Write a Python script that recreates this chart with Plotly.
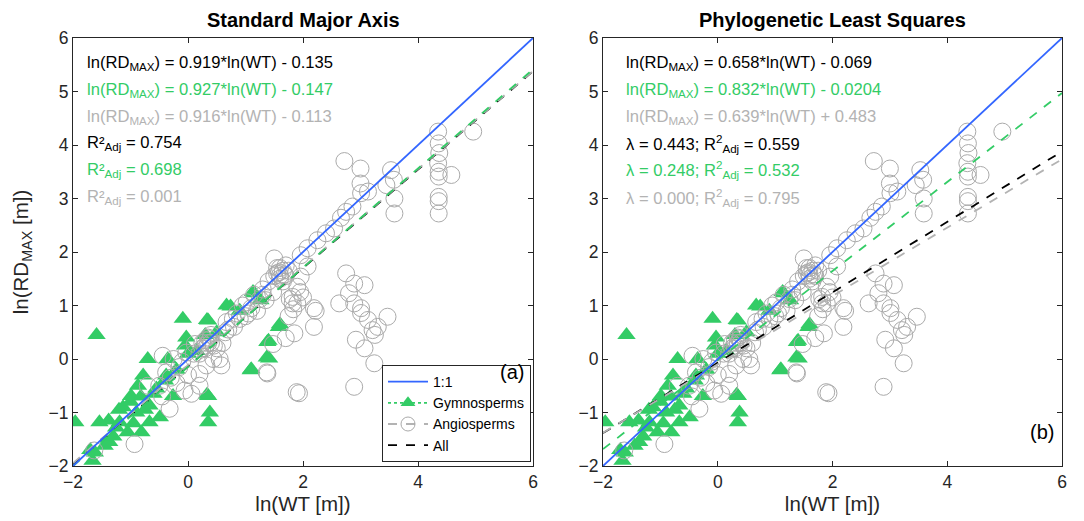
import numpy as np
import plotly.graph_objects as go

# ---------------- data ----------------
gymno_x = [-1.59, -1.96, -1.54, -1.38, -1.19, -1.66, -1.62, -1.45, -1.37, -1.25,
           -1.05, -0.81, -0.67, -0.49, -1.13, -0.99, -0.87, -0.78, -0.70, -0.82,
           -0.67, -0.55, -0.90, -1.00, -0.26, -0.38, -0.35, -0.20, -0.09, -0.03,
           -0.05, 0.00, 0.35, 0.30, 0.35, 0.38, 0.35, 0.33, 0.67, 0.74,
           0.33, 1.10, 1.09, 1.37, 1.41, 1.40, 1.38, 1.60, 1.58, 1.13,
           1.26, 1.15, 0.90, 0.50, 0.15, -0.40, -1.20, -1.70, -0.95, -0.60,
           -1.30, -0.75]
gymno_y = [0.45, -1.18, -1.18, -1.15, -1.18, -1.90, -1.75, -1.62, -1.55, -1.28,
           -1.37, -1.37, -1.18, -1.09, -0.90, -0.69, -0.50, -0.31, 0.00, -0.70,
           -0.87, -0.55, -1.00, -0.80, -0.69, -0.31, 0.00, -0.20, 0.75, 0.40,
           0.25, 0.10, 0.72, 0.45, -0.69, -1.00, -1.18, -0.67, 1.00, 0.98,
           0.73, -0.19, -0.21, 0.03, 0.01, 0.34, 0.32, 0.65, 0.60, 1.25,
           1.10, 1.23, 0.90, 0.50, 0.15, -0.40, -0.95, -1.70, -1.20, -0.65,
           -1.45, -0.95]

angio_x = [-1.63, -0.93, -0.32, -0.38, -0.30, -0.20, -0.06, 0.06, 0.20, 0.20,
           0.32, 0.38, 0.35, 0.30, 0.25, 0.40, 0.44, 0.55, 0.58, 0.50,
           0.60, 0.67, 0.78, 0.85, 1.02, 1.10, 1.25, 1.48, 1.60, 1.77,
           1.83, 1.75, 1.37, 1.48, 1.89, 0.12, 0.10, -0.03, -0.10, 0.00,
           -0.15, -0.50, -0.44, -0.25, 0.25, 0.30, 0.35, 0.30, 0.40, 0.20,
           0.45, 0.70, 0.90, 0.95, 1.00, 0.80, 1.20, 1.15, 1.30, 1.35,
           2.72, 3.00, 3.00, 3.13, 3.53, 3.58, 3.45, 3.59, 3.59, 4.35,
           4.36, 4.37, 4.35, 4.36, 4.58, 4.36, 4.36, 4.36, 4.36, 4.96,
           3.01, 2.86, 2.75, 2.66, 2.54, 2.40, 2.25, 2.08, 1.96, 1.55,
           1.60, 1.65, 1.70, 1.75, 1.60, 1.50, 1.65, 1.55, 1.70, 1.58,
           1.68, 1.50, 1.82, 1.82, 1.96, 2.08, 2.75, 2.89, 3.07, 2.80,
           2.63, 2.19, 2.22, 2.19, 1.90, 1.85, 2.89, 3.01, 3.01, 3.13,
           3.21, 3.47, 2.92, 3.07, 3.24, 2.89, 1.93, 1.38, 1.70, 1.95,
           1.90, 2.00, 1.40, 1.30, 3.25, 3.30, -0.70, -0.45, 0.65, 1.05]
angio_y = [-1.71, -1.59, -0.93, -0.25, -0.35, -0.45, -0.59, -0.65, -0.50, -0.28,
           -0.12, 0.37, 0.30, 0.25, 0.20, 0.45, 0.00, 0.00, -0.12, 0.20,
           0.30, 0.69, 0.75, 0.85, 1.06, 0.95, 1.12, 1.25, 1.56, 1.12,
           0.93, 0.80, -0.25, 0.28, -0.62, 0.28, 0.10, 0.12, -0.05, -0.30,
           -0.15, -0.50, 0.06, 0.00, 0.30, 0.35, 0.40, 0.20, 0.30, 0.10,
           0.25, 0.55, 0.75, 1.00, 0.80, 0.60, 0.90, 1.20, 1.30, 1.10,
           3.70, 3.56, 3.28, 3.13, 3.53, 3.35, 3.25, 3.00, 2.72, 4.25,
           4.03, 3.85, 3.66, 3.50, 3.44, 3.41, 3.03, 2.95, 2.72, 4.25,
           3.10, 2.85, 2.75, 2.64, 2.44, 2.35, 2.22, 2.07, 1.94, 1.60,
           1.50, 1.65, 1.55, 1.65, 1.70, 1.55, 1.45, 1.70, 1.75, 1.62,
           1.58, 1.88, 1.16, 1.04, 1.54, 1.73, 1.60, 1.41, 1.38, 1.23,
           1.04, 0.95, 0.90, 0.60, 1.04, 0.48, 1.04, 0.95, 0.86, 0.73,
           0.54, 0.79, 0.36, 0.20, -0.08, -0.52, -0.64, -0.27, 0.39, 1.25,
           1.35, 1.15, 1.45, 1.20, 0.45, 0.60, -0.50, -0.70, 0.50, 0.85]

# fit order: All, Gymnosperms, Angiosperms
sma_slopes = [0.919, 0.927, 0.916]
sma_intercepts = [-0.135, -0.147, -0.113]
pgls_slopes = [0.658, 0.832, 0.639]
pgls_intercepts_text = [-0.069, -0.0204, 0.483]
pgls_intercepts_drawn = [-0.069, -0.0204, -0.10]
sma_r2 = [0.754, 0.698, 0.001]
pgls_lambda = [0.443, 0.248, 0.000]
pgls_r2 = [0.559, 0.532, 0.795]

axis_range = [-2, 6]
tick_vals = [-2, 0, 2, 4, 6]
ytick_vals = [-2, -1, 0, 1, 2, 3, 4, 5, 6]

GREEN = "#33CC66"
GRAY = "#B3B3B3"
BLUE = "#3366FF"
BLACK = "#000000"
FONT = "Liberation Sans, Arial, sans-serif"
fit_colors = [BLACK, GREEN, GRAY]
W, H = 1084, 521

fig = go.Figure()

def add_panel(xa, ya, slopes, intercepts):
    fig.add_trace(go.Scatter(x=gymno_x, y=gymno_y, mode="markers", xaxis=xa, yaxis=ya,
                             marker=dict(symbol="triangle-up", size=16, color=GREEN,
                                         line=dict(width=0)), showlegend=False))
    fig.add_trace(go.Scatter(x=angio_x, y=angio_y, mode="markers", xaxis=xa, yaxis=ya,
                             marker=dict(symbol="circle-open", size=17, color="#AAAAAA",
                                         line=dict(width=1)), showlegend=False))
    xl = np.array(axis_range, dtype=float)
    for k in [0, 2, 1]:
        fig.add_trace(go.Scatter(x=xl, y=slopes[k] * xl + intercepts[k], mode="lines",
                                 xaxis=xa, yaxis=ya, showlegend=False,
                                 line=dict(color=fit_colors[k], width=1.8, dash="dash")))
    fig.add_trace(go.Scatter(x=xl, y=xl, mode="lines", xaxis=xa, yaxis=ya, showlegend=False,
                             line=dict(color=BLUE, width=1.8)))

add_panel("x", "y", sma_slopes, sma_intercepts)
add_panel("x2", "y2", pgls_slopes, pgls_intercepts_drawn)

# legend-only entries
fig.add_trace(go.Scatter(x=[None], y=[None], mode="lines", name="1:1",
                         line=dict(color=BLUE, width=1.8)))
fig.add_trace(go.Scatter(x=[None], y=[None], mode="lines+markers", name="Gymnosperms",
                         line=dict(color=GREEN, width=1.8, dash="dot"),
                         marker=dict(symbol="triangle-up", size=13, color=GREEN)))
fig.add_trace(go.Scatter(x=[None], y=[None], mode="lines+markers", name="Angiosperms",
                         line=dict(color=GRAY, width=1.8, dash="dash"),
                         marker=dict(symbol="circle-open", size=14, color="#AAAAAA")))
fig.add_trace(go.Scatter(x=[None], y=[None], mode="lines", name="All",
                         line=dict(color=BLACK, width=1.8, dash="dash")))

axis_common = dict(range=axis_range, showgrid=False, zeroline=False, showline=True,
                   linecolor="#262626", linewidth=1, mirror="ticks", ticks="inside",
                   ticklen=5, tickcolor="#262626", automargin=False,
                   tickfont=dict(family=FONT, size=17.5, color="#262626"))
L0, L1 = 73 / W, 533 / W
R0, R1 = 603 / W, 1062 / W
Y0, Y1 = 1 - 466 / H, 1 - 38 / H

fig.update_layout(
    width=W, height=H, margin=dict(l=0, r=0, t=0, b=0, autoexpand=False),
    paper_bgcolor="white", plot_bgcolor="white",
    font=dict(family=FONT, color="#262626"),
    xaxis=dict(axis_common, domain=[L0, L1], tickvals=tick_vals,
               title=dict(text="ln(WT [m])", font=dict(size=20.5), standoff=2)),
    yaxis=dict(axis_common, domain=[Y0, Y1], tickvals=ytick_vals,
               title=dict(text="ln(RD<sub>MAX</sub> [m])", font=dict(size=20.5), standoff=14)),
    xaxis2=dict(axis_common, domain=[R0, R1], tickvals=tick_vals, anchor="y2",
                title=dict(text="ln(WT [m])", font=dict(size=20.5), standoff=2)),
    yaxis2=dict(axis_common, domain=[Y0, Y1], tickvals=ytick_vals, anchor="x2"),
    legend=dict(x=531 / W, y=1 - 462 / H, xanchor="right", yanchor="bottom",
                bgcolor="white", bordercolor="#262626", borderwidth=1,
                font=dict(family=FONT, size=14, color="#000000"),
                tracegroupgap=0, itemwidth=40),
    showlegend=True,
)

ann = []
ann.append(dict(text="<b>Standard Major Axis</b>", x=(L0 + L1) / 2, y=1 - 20 / H,
                xref="paper", yref="paper", showarrow=False, xanchor="center", yanchor="middle",
                font=dict(size=20, color="#000000", family=FONT)))
ann.append(dict(text="<b>Phylogenetic Least Squares</b>", x=(R0 + R1) / 2, y=1 - 20 / H,
                xref="paper", yref="paper", showarrow=False, xanchor="center", yanchor="middle",
                font=dict(size=20, color="#000000", family=FONT)))

def fmt_int(v):
    s = f"{abs(v):g}"
    return ("+ " if v >= 0 else "- ") + s

line_y = [63, 90, 117, 143, 170, 197]
TS = 16.6
for k in range(3):
    ann.append(dict(text=f"ln(RD<sub>MAX</sub>) = {sma_slopes[k]:.3f}*ln(WT) {fmt_int(sma_intercepts[k])}",
                    x=85 / W, y=1 - line_y[k] / H, xref="paper", yref="paper",
                    xanchor="left", yanchor="middle", showarrow=False,
                    font=dict(size=TS, color=fit_colors[k], family=FONT)))
    ann.append(dict(text=f"R²<sub>Adj</sub> = {sma_r2[k]:.3f}",
                    x=85 / W, y=1 - line_y[k + 3] / H, xref="paper", yref="paper",
                    xanchor="left", yanchor="middle", showarrow=False,
                    font=dict(size=TS, color=fit_colors[k], family=FONT)))
    ann.append(dict(text=f"ln(RD<sub>MAX</sub>) = {pgls_slopes[k]:.3f}*ln(WT) {fmt_int(pgls_intercepts_text[k])}",
                    x=624 / W, y=1 - line_y[k] / H, xref="paper", yref="paper",
                    xanchor="left", yanchor="middle", showarrow=False,
                    font=dict(size=TS, color=fit_colors[k], family=FONT)))
    ann.append(dict(text=f"λ = {pgls_lambda[k]:.3f}; R<sup>2</sup><sub>Adj</sub> = {pgls_r2[k]:.3f}",
                    x=624 / W, y=1 - line_y[k + 3] / H, xref="paper", yref="paper",
                    xanchor="left", yanchor="middle", showarrow=False,
                    font=dict(size=TS, color=fit_colors[k], family=FONT)))

ann.append(dict(text="(a)", x=512 / W, y=1 - 372 / H, xref="paper", yref="paper",
                showarrow=False, xanchor="center", yanchor="middle",
                font=dict(size=20, color="#000000", family=FONT)))
ann.append(dict(text="(b)", x=1042 / W, y=1 - 432 / H, xref="paper", yref="paper",
                showarrow=False, xanchor="center", yanchor="middle",
                font=dict(size=20, color="#000000", family=FONT)))
fig.update_layout(annotations=ann)

fig.write_html("out.html", config={"displayModeBar": False},
               post_script="document.body.style.margin='0px';document.body.style.padding='0px';")
